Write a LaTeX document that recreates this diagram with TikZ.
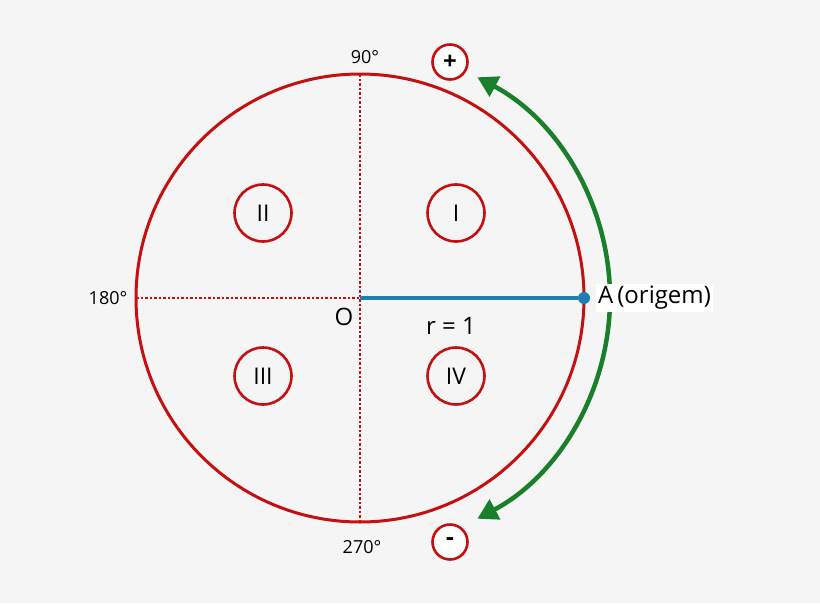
\documentclass[tikz,border=0pt]{standalone}
\usepackage{fontspec}
\setmainfont{Open Sans}
\usetikzlibrary{arrows.meta}
\definecolor{myred}{HTML}{C41010}
\definecolor{myblue}{HTML}{1E7FB0}
\definecolor{mygreen}{HTML}{1A7F2A}
\definecolor{bg}{HTML}{F5F5F5}
\begin{document}
\begin{tikzpicture}[x=1pt,y=-1pt,
  quad/.style={circle,draw=myred,line width=2.6pt,minimum size=57pt,inner sep=0pt,font=\fontsize{23}{26}\selectfont},
  sign/.style={circle,draw=myred,line width=2.6pt,fill=white,minimum size=35pt,inner sep=0pt,font=\bfseries\fontsize{24}{26}\selectfont},
  lbl/.style={font=\fontsize{18}{20}\selectfont,inner sep=1pt},
  garrow/.style={mygreen,line width=4.5pt,-{Triangle[length=20pt,width=22pt]}}]
\fill[bg] (0,0) rectangle (820,603);
\useasboundingbox (0,0) rectangle (820,603);
\coordinate (O) at (360,298);
\coordinate (top) at (360,74);
\coordinate (bot) at (360,523);
\coordinate (left) at (136,298);
\draw[myred,line width=3pt] (O) circle (224);
\draw[myred,line width=2.5pt,dotted] (top) -- (bot);
\draw[myred,line width=2.5pt,dotted] (left) -- (O);
\draw[garrow] (610,298) arc[start angle=0,end angle=-62,radius=250];
\draw[garrow] (610,298) arc[start angle=0,end angle=62,radius=250];
\node[circle,fill=myblue,inner sep=0pt,minimum size=12pt] (A) at (584,298) {};
\draw[myblue,line width=4.5pt] (O) -- (A);
\node[lbl,fill=white,anchor=west,font=\fontsize{24}{26}\selectfont,inner sep=2pt] (Alab) at (596,298) {A\,(origem)};
\node[lbl] (l90) at (365,57) {90°};
\node[lbl] (l180) at (108,298) {180°};
\node[lbl] (l270) at (362,547) {270°};
\node[lbl,font=\fontsize{24}{26}\selectfont] (lO) at (344,317) {O};
\node[lbl,font=\fontsize{24}{26}\selectfont] (lr) at (451,326) {r = 1};
\node[quad] (q1) at (456,213) {I};
\node[quad] (q2) at (263,213) {II};
\node[quad] (q3) at (263,376) {III};
\node[quad] (q4) at (456,376) {IV};
\node[sign] (plus) at (450,62) {+};
\node[sign] (minus) at (450,542) {-};
\end{tikzpicture}
\end{document}
